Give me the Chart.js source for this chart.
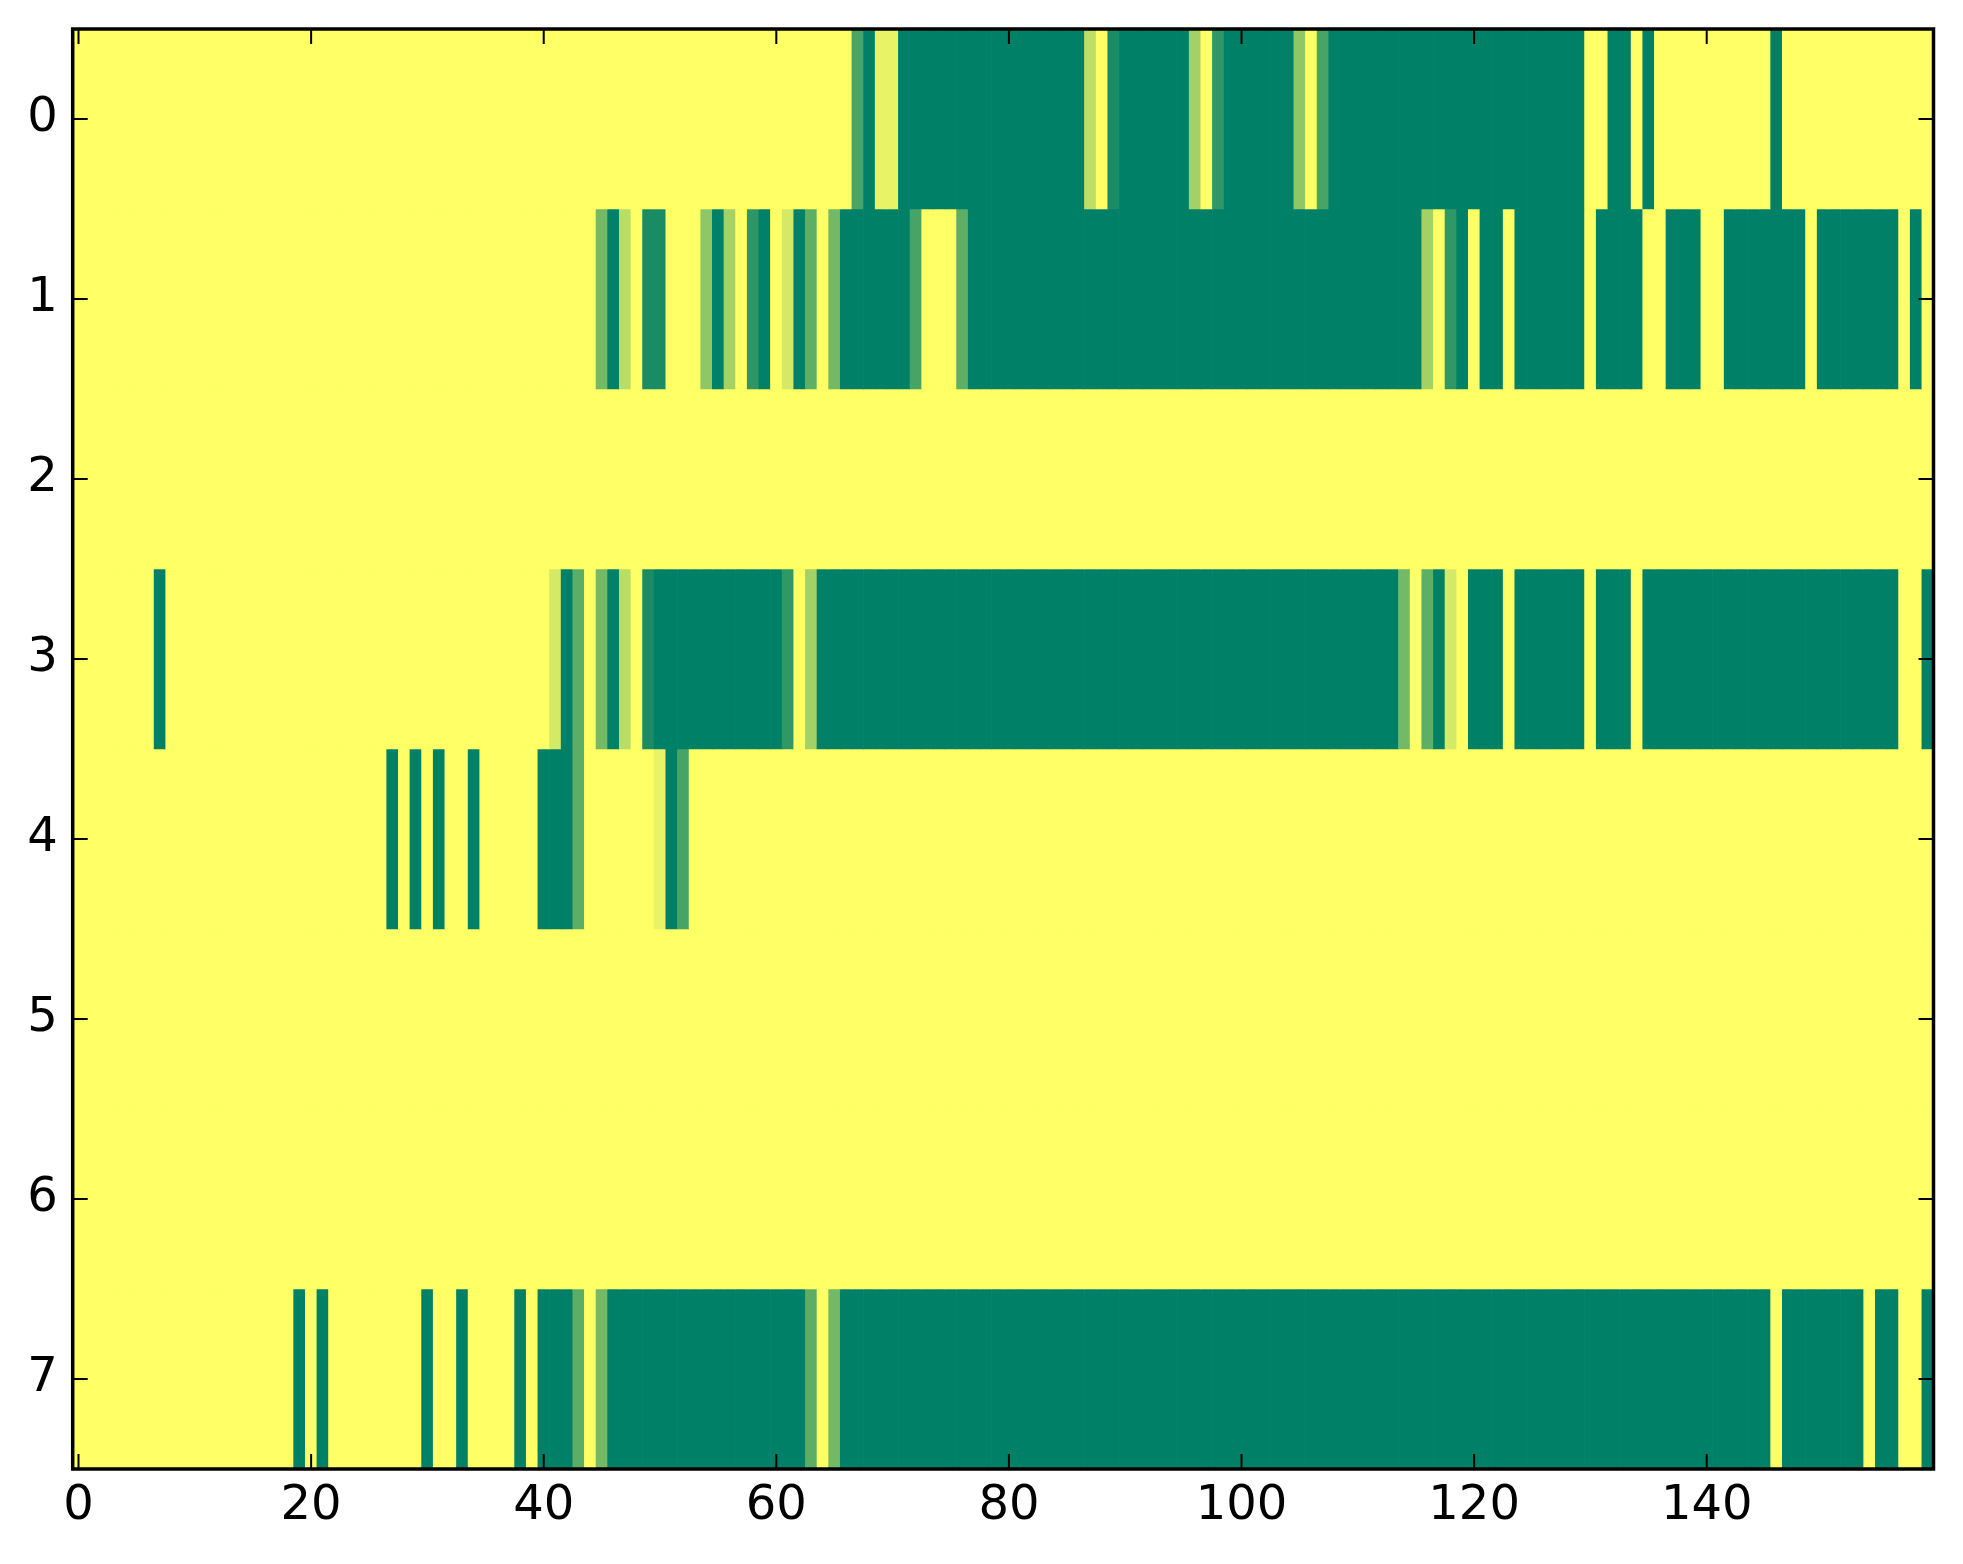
<!DOCTYPE html>
<html>
<head>
<meta charset="utf-8">
<script src="https://cdn.jsdelivr.net/npm/chart.js@4/dist/chart.umd.min.js"></script>
<style>
html,body{margin:0;padding:0;background:#fff;}
#wrap{width:1963px;height:1564px;position:relative;}
</style>
</head>
<body>
<div id="wrap"><canvas id="c"></canvas></div>
<script>
// categories
const rowLabels = ['0','1','2','3','4','5','6','7'];
const columns = Array.from({length:160}, (_, i) => i);
const xTickValues = [0,20,40,60,80,100,120,140];
const yTickValues = [0,1,2,3,4,5,6,7];

// cell values per row (0 = yellow, 1 = green)
const row0 = [
0,0,0,0,0,0,0,0,0,0,0,0,0,0,0,0,0,0,0,0,
0,0,0,0,0,0,0,0,0,0,0,0,0,0,0,0,0,0,0,0,
0,0,0,0,0,0,0,0,0,0,0,0,0,0,0,0,0,0,0,0,
0,0,0,0,0,0,0,0.72,1,0.09,0.09,1,1,1,1,1,1,1,1,1,
1,1,1,1,1,1,1,0.26,0,0.9,1,1,1,1,1,1,0.36,0,0.81,1,
1,1,1,1,1,0.44,0,0.72,1,1,1,1,1,1,1,1,1,1,1,1,
1,1,1,1,1,1,1,1,1,1,0,0,1,1,0,1,0,0,0,0,
0,0,0,0,0,0,1,0,0,0,0,0,0,0,0,0,0,0,0,0];
const row1 = [
0,0,0,0,0,0,0,0,0,0,0,0,0,0,0,0,0,0,0,0,
0,0,0,0,0,0,0,0,0,0,0,0,0,0,0,0,0,0,0,0,
0,0,0,0,0,0.55,1,0.27,0,0.9,0.9,0,0,0,0.44,1,0.36,0,0.82,1,
0,0.17,1,0.63,0,0.55,1,1,1,1,1,1,0.72,0,0,0,0.63,1,1,1,
1,1,1,1,1,1,1,1,1,1,1,1,1,1,1,1,1,1,1,1,
1,1,1,1,1,1,1,1,1,1,1,1,1,1,1,1,0.36,0,0.81,1,
0,1,1,0,1,1,1,1,1,1,0,1,1,1,1,0,0,1,1,1,
0,0,1,1,1,1,1,1,1,0,1,1,1,1,1,1,1,0,1,0];
const row2 = [
0,0,0,0,0,0,0,0,0,0,0,0,0,0,0,0,0,0,0,0,
0,0,0,0,0,0,0,0,0,0,0,0,0,0,0,0,0,0,0,0,
0,0,0,0,0,0,0,0,0,0,0,0,0,0,0,0,0,0,0,0,
0,0,0,0,0,0,0,0,0,0,0,0,0,0,0,0,0,0,0,0,
0,0,0,0,0,0,0,0,0,0,0,0,0,0,0,0,0,0,0,0,
0,0,0,0,0,0,0,0,0,0,0,0,0,0,0,0,0,0,0,0,
0,0,0,0,0,0,0,0,0,0,0,0,0,0,0,0,0,0,0,0,
0,0,0,0,0,0,0,0,0,0,0,0,0,0,0,0,0,0,0,0];
const row3 = [
0,0,0,0,0,0,0,1,0,0,0,0,0,0,0,0,0,0,0,0,
0,0,0,0,0,0,0,0,0,0,0,0,0,0,0,0,0,0,0,0,
0,0.17,1,0.64,0,0.55,1,0.27,0,0.9,1,1,1,1,1,1,1,1,1,1,
1,0.81,0,0.36,1,1,1,1,1,1,1,1,1,1,1,1,1,1,1,1,
1,1,1,1,1,1,1,1,1,1,1,1,1,1,1,1,1,1,1,1,
1,1,1,1,1,1,1,1,1,1,1,1,1,1,0.55,0,0.63,1,0.17,0,
1,1,1,0,1,1,1,1,1,1,0,1,1,1,0,1,1,1,1,1,
1,1,1,1,1,1,1,1,1,1,1,1,1,1,1,1,1,0,0,1];
const row4 = [
0,0,0,0,0,0,0,0,0,0,0,0,0,0,0,0,0,0,0,0,
0,0,0,0,0,0,0,1,0,1,0,1,0,0,1,0,0,0,0,0,
1,1,1,0.64,0,0,0,0,0,0,0.09,1,0.72,0,0,0,0,0,0,0,
0,0,0,0,0,0,0,0,0,0,0,0,0,0,0,0,0,0,0,0,
0,0,0,0,0,0,0,0,0,0,0,0,0,0,0,0,0,0,0,0,
0,0,0,0,0,0,0,0,0,0,0,0,0,0,0,0,0,0,0,0,
0,0,0,0,0,0,0,0,0,0,0,0,0,0,0,0,0,0,0,0,
0,0,0,0,0,0,0,0,0,0,0,0,0,0,0,0,0,0,0,0];
const row5 = [
0,0,0,0,0,0,0,0,0,0,0,0,0,0,0,0,0,0,0,0,
0,0,0,0,0,0,0,0,0,0,0,0,0,0,0,0,0,0,0,0,
0,0,0,0,0,0,0,0,0,0,0,0,0,0,0,0,0,0,0,0,
0,0,0,0,0,0,0,0,0,0,0,0,0,0,0,0,0,0,0,0,
0,0,0,0,0,0,0,0,0,0,0,0,0,0,0,0,0,0,0,0,
0,0,0,0,0,0,0,0,0,0,0,0,0,0,0,0,0,0,0,0,
0,0,0,0,0,0,0,0,0,0,0,0,0,0,0,0,0,0,0,0,
0,0,0,0,0,0,0,0,0,0,0,0,0,0,0,0,0,0,0,0];
const row6 = [
0,0,0,0,0,0,0,0,0,0,0,0,0,0,0,0,0,0,0,0,
0,0,0,0,0,0,0,0,0,0,0,0,0,0,0,0,0,0,0,0,
0,0,0,0,0,0,0,0,0,0,0,0,0,0,0,0,0,0,0,0,
0,0,0,0,0,0,0,0,0,0,0,0,0,0,0,0,0,0,0,0,
0,0,0,0,0,0,0,0,0,0,0,0,0,0,0,0,0,0,0,0,
0,0,0,0,0,0,0,0,0,0,0,0,0,0,0,0,0,0,0,0,
0,0,0,0,0,0,0,0,0,0,0,0,0,0,0,0,0,0,0,0,
0,0,0,0,0,0,0,0,0,0,0,0,0,0,0,0,0,0,0,0];
const row7 = [
0,0,0,0,0,0,0,0,0,0,0,0,0,0,0,0,0,0,0,1,
0,1,0,0,0,0,0,0,0,0,1,0,0,1,0,0,0,0,1,0,
1,1,1,0.64,0,0.55,1,1,1,1,1,1,1,1,1,1,1,1,1,1,
1,1,1,0.64,0,0.55,1,1,1,1,1,1,1,1,1,1,1,1,1,1,
1,1,1,1,1,1,1,1,1,1,1,1,1,1,1,1,1,1,1,1,
1,1,1,1,1,1,1,1,1,1,1,1,1,1,1,1,1,1,1,1,
1,1,1,1,1,1,1,1,1,1,1,1,1,1,1,1,1,1,1,1,
1,1,1,1,1,1,0,1,1,1,1,1,1,1,0,1,1,0,0,1];

const rows = [row0,row1,row2,row3,row4,row5,row6,row7];

// matplotlib "summer_r" colormap
function summerR(v){
  const r = Math.round(255*(1-v));
  const g = Math.round(255*(1-0.5*v));
  return 'rgb(' + r + ',' + g + ',102)';
}

const datasets = rows.map((vals, r) => ({
  label: 'row ' + rowLabels[r],
  data: vals.map((v, c) => ({x: columns[c], y: [r - 0.5, r + 0.5]})),
  backgroundColor: vals.map(summerR),
  borderWidth: 0,
  barPercentage: 1,
  categoryPercentage: 1,
  grouped: false
}));

const framePlugin = {
  id: 'frame',
  afterDatasetsDraw(chart){
    const {ctx, chartArea: a, scales: {x, y}} = chart;
    ctx.save();
    ctx.strokeStyle = '#000';
    ctx.lineWidth = 2;
    ctx.beginPath();
    xTickValues.forEach(v => {
      const p = x.getPixelForValue(v);
      ctx.moveTo(p, a.bottom); ctx.lineTo(p, a.bottom - 15);
      ctx.moveTo(p, a.top); ctx.lineTo(p, a.top + 15);
    });
    yTickValues.forEach(v => {
      const p = y.getPixelForValue(v);
      ctx.moveTo(a.left, p); ctx.lineTo(a.left + 15, p);
      ctx.moveTo(a.right, p); ctx.lineTo(a.right - 15, p);
    });
    ctx.stroke();
    ctx.lineWidth = 3.5;
    ctx.strokeRect(a.left, a.top, a.right - a.left, a.bottom - a.top);
    ctx.restore();
  }
};

const tickFont = {family: 'DejaVu Sans', size: 48};

new Chart(document.getElementById('c'), {
  type: 'bar',
  data: {datasets},
  options: {
    responsive: true,
    maintainAspectRatio: false,
    devicePixelRatio: 1,
    animation: false,
    layout: {padding: {top: 29, right: 29.5, left: 0, bottom: 0}},
    plugins: {legend: {display: false}, tooltip: {enabled: false}},
    scales: {
      x: {
        type: 'linear', min: -0.5, max: 159.5, offset: false,
        grid: {display: false, drawTicks: false, offset: false},
        border: {display: false},
        afterBuildTicks: s => { s.ticks = xTickValues.map(v => ({value: v})); },
        afterFit: s => { s.height = 95; s.paddingLeft = 0; s.paddingRight = 0; },
        ticks: {padding: 9, font: tickFont, color: '#000', maxRotation: 0, autoSkip: false,
                callback: v => String(v)}
      },
      y: {
        type: 'linear', reverse: true, min: -0.5, max: 7.5,
        grid: {display: false, drawTicks: false},
        border: {display: false},
        afterBuildTicks: s => { s.ticks = yTickValues.map(v => ({value: v})); },
        afterFit: s => { s.width = 72.7; s.paddingTop = 0; s.paddingBottom = 0; },
        ticks: {padding: 15, font: tickFont, color: '#000', autoSkip: false,
                callback: v => rowLabels[v]}
      }
    }
  },
  plugins: [framePlugin]
});
</script>
</body>
</html>
